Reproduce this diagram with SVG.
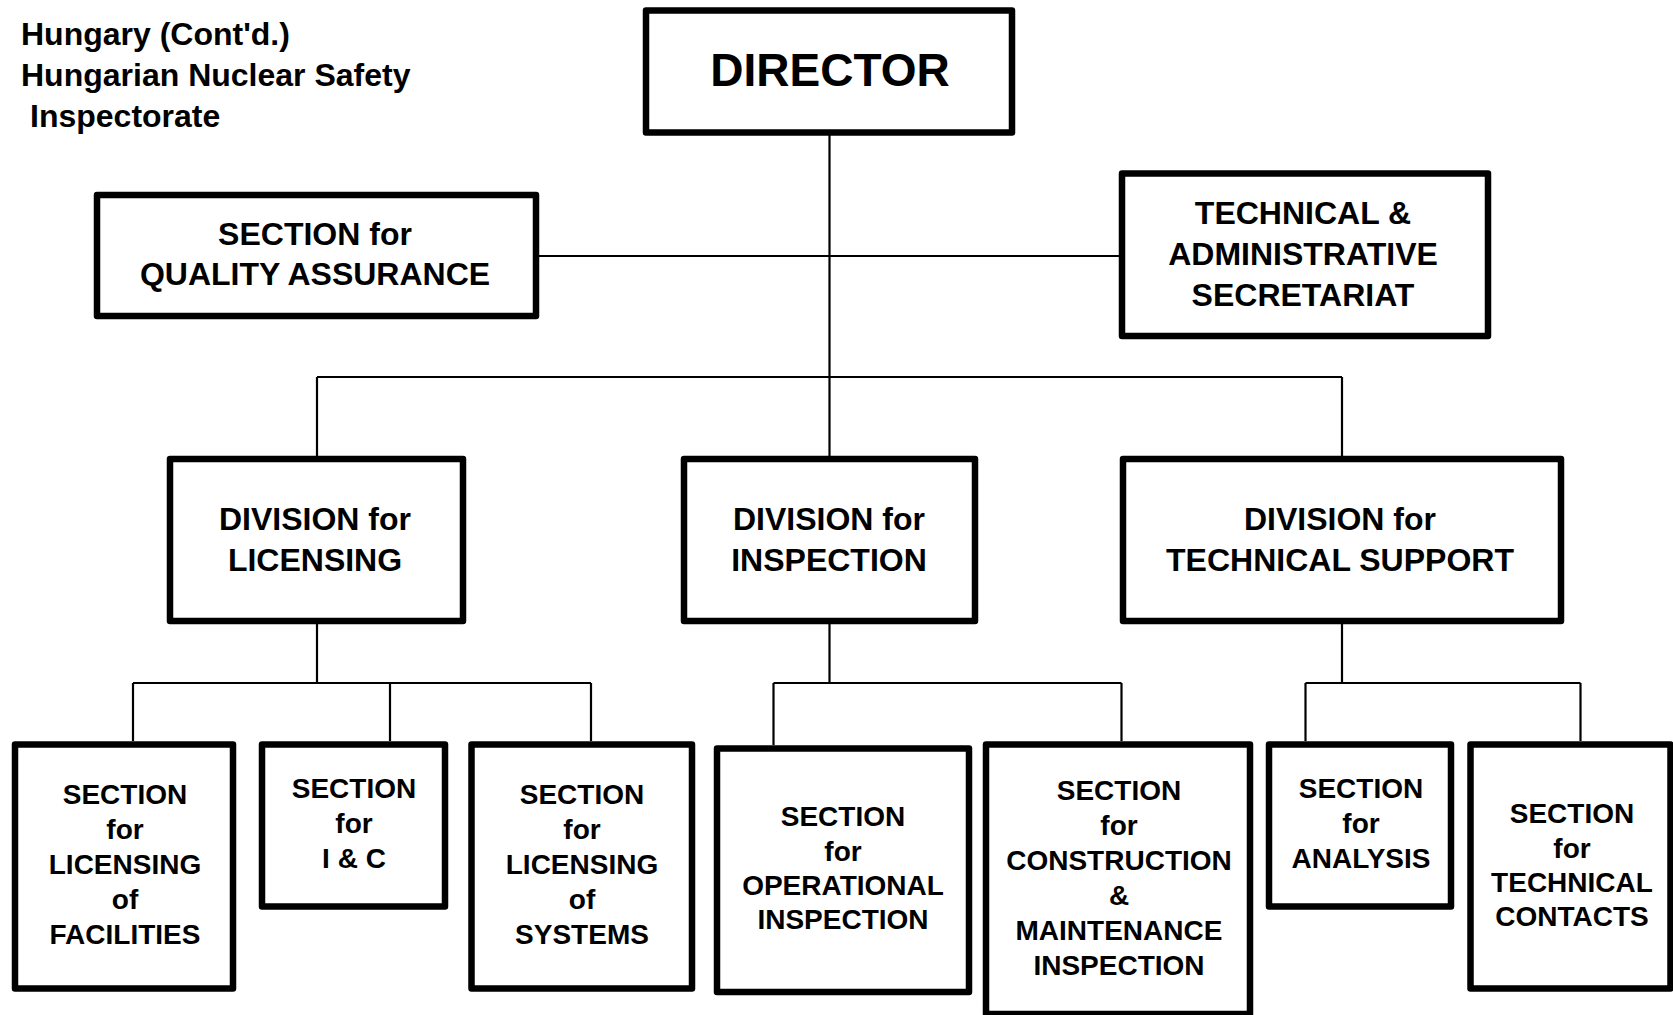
<svg xmlns="http://www.w3.org/2000/svg" width="1673" height="1015" viewBox="0 0 1673 1015">
  <style>
    .box { fill: #fff; stroke: #000; stroke-width: 6.5; stroke-linejoin: round; }
    .wire { fill: none; stroke: #000; stroke-width: 2.2; }
    text { font-family: "Liberation Sans", Arial, sans-serif; font-weight: bold; fill: #000; }
    .t32 { font-size: 32px; text-anchor: middle; }
    .t28 { font-size: 28px; text-anchor: middle; }
    .title { font-size: 32px; }
  </style>

  <rect width="1673" height="1015" fill="#fff"/>

  <!-- heading -->
  <g id="heading">
    <text class="title" x="21" y="45">Hungary (Cont'd.)</text>
    <text class="title" x="21" y="86">Hungarian Nuclear Safety</text>
    <text class="title" x="30" y="127">Inspectorate</text>
  </g>

  <!-- connectors -->
  <g id="connectors" class="wire">
    <!-- director trunk -->
    <path d="M829.5 132.5 V459"/>
    <!-- staff units -->
    <path d="M536 256 H1122"/>
    <!-- division bar -->
    <path d="M317 377 H1342 M317 377 V459 M1342 377 V459"/>
    <!-- licensing sections -->
    <path d="M317 621 V683 M133 683 H591 M133 683 V741 M390 683 V741 M591 683 V741"/>
    <!-- inspection sections -->
    <path d="M829.5 621 V683 M773.5 683 H1121.5 M773.5 683 V745 M1121.5 683 V741"/>
    <!-- technical support sections -->
    <path d="M1342 621 V683 M1305.5 683 H1580.5 M1305.5 683 V741 M1580.5 683 V741"/>
  </g>

  <g id="director">
    <rect class="box" x="646" y="10.5" width="366" height="122"/>
    <text x="830" y="86" font-size="46" text-anchor="middle">DIRECTOR</text>
  </g>

  <g id="qa">
    <rect class="box" x="97" y="195" width="439" height="121"/>
    <text class="t32" x="315" y="245">SECTION for</text>
    <text class="t32" x="315" y="285">QUALITY ASSURANCE</text>
  </g>

  <g id="secretariat">
    <rect class="box" x="1122" y="173.5" width="366" height="162.5"/>
    <text class="t32" x="1303" y="224">TECHNICAL &amp;</text>
    <text class="t32" x="1303" y="265">ADMINISTRATIVE</text>
    <text class="t32" x="1303" y="306">SECRETARIAT</text>
  </g>

  <g id="div-licensing">
    <rect class="box" x="170" y="459" width="293" height="162"/>
    <text class="t32" x="315" y="530">DIVISION for</text>
    <text class="t32" x="315" y="571">LICENSING</text>
  </g>

  <g id="div-inspection">
    <rect class="box" x="684" y="459" width="291" height="162"/>
    <text class="t32" x="829" y="530">DIVISION for</text>
    <text class="t32" x="829" y="571">INSPECTION</text>
  </g>

  <g id="div-support">
    <rect class="box" x="1123" y="459" width="438" height="162"/>
    <text class="t32" x="1340" y="530">DIVISION for</text>
    <text class="t32" x="1340" y="571">TECHNICAL SUPPORT</text>
  </g>

  <g id="sec-facilities">
    <rect class="box" x="15" y="744.5" width="218" height="244"/>
    <text class="t28" x="125" y="804">SECTION</text>
    <text class="t28" x="125" y="839">for</text>
    <text class="t28" x="125" y="874">LICENSING</text>
    <text class="t28" x="125" y="909">of</text>
    <text class="t28" x="125" y="944">FACILITIES</text>
  </g>

  <g id="sec-ic">
    <rect class="box" x="262" y="744.5" width="183" height="162"/>
    <text class="t28" x="354" y="798">SECTION</text>
    <text class="t28" x="354" y="833">for</text>
    <text class="t28" x="354" y="868">I &amp; C</text>
  </g>

  <g id="sec-systems">
    <rect class="box" x="471.5" y="744.5" width="220.5" height="244"/>
    <text class="t28" x="582" y="804">SECTION</text>
    <text class="t28" x="582" y="839">for</text>
    <text class="t28" x="582" y="874">LICENSING</text>
    <text class="t28" x="582" y="909">of</text>
    <text class="t28" x="582" y="944">SYSTEMS</text>
  </g>

  <g id="sec-operational">
    <rect class="box" x="717" y="748.5" width="252" height="243.5"/>
    <text class="t28" x="843" y="826">SECTION</text>
    <text class="t28" x="843" y="861">for</text>
    <text class="t28" x="843" y="895">OPERATIONAL</text>
    <text class="t28" x="843" y="929">INSPECTION</text>
  </g>

  <g id="sec-construction">
    <rect class="box" x="986" y="744.5" width="264" height="269.5"/>
    <text class="t28" x="1119" y="800">SECTION</text>
    <text class="t28" x="1119" y="835">for</text>
    <text class="t28" x="1119" y="870">CONSTRUCTION</text>
    <text class="t28" x="1119" y="905">&amp;</text>
    <text class="t28" x="1119" y="940">MAINTENANCE</text>
    <text class="t28" x="1119" y="975">INSPECTION</text>
  </g>

  <g id="sec-analysis">
    <rect class="box" x="1269" y="744.5" width="182" height="162"/>
    <text class="t28" x="1361" y="798">SECTION</text>
    <text class="t28" x="1361" y="833">for</text>
    <text class="t28" x="1361" y="868">ANALYSIS</text>
  </g>

  <g id="sec-contacts">
    <rect class="box" x="1470.5" y="744.5" width="200" height="244"/>
    <text class="t28" x="1572" y="823">SECTION</text>
    <text class="t28" x="1572" y="858">for</text>
    <text class="t28" x="1572" y="892">TECHNICAL</text>
    <text class="t28" x="1572" y="926">CONTACTS</text>
  </g>
</svg>
